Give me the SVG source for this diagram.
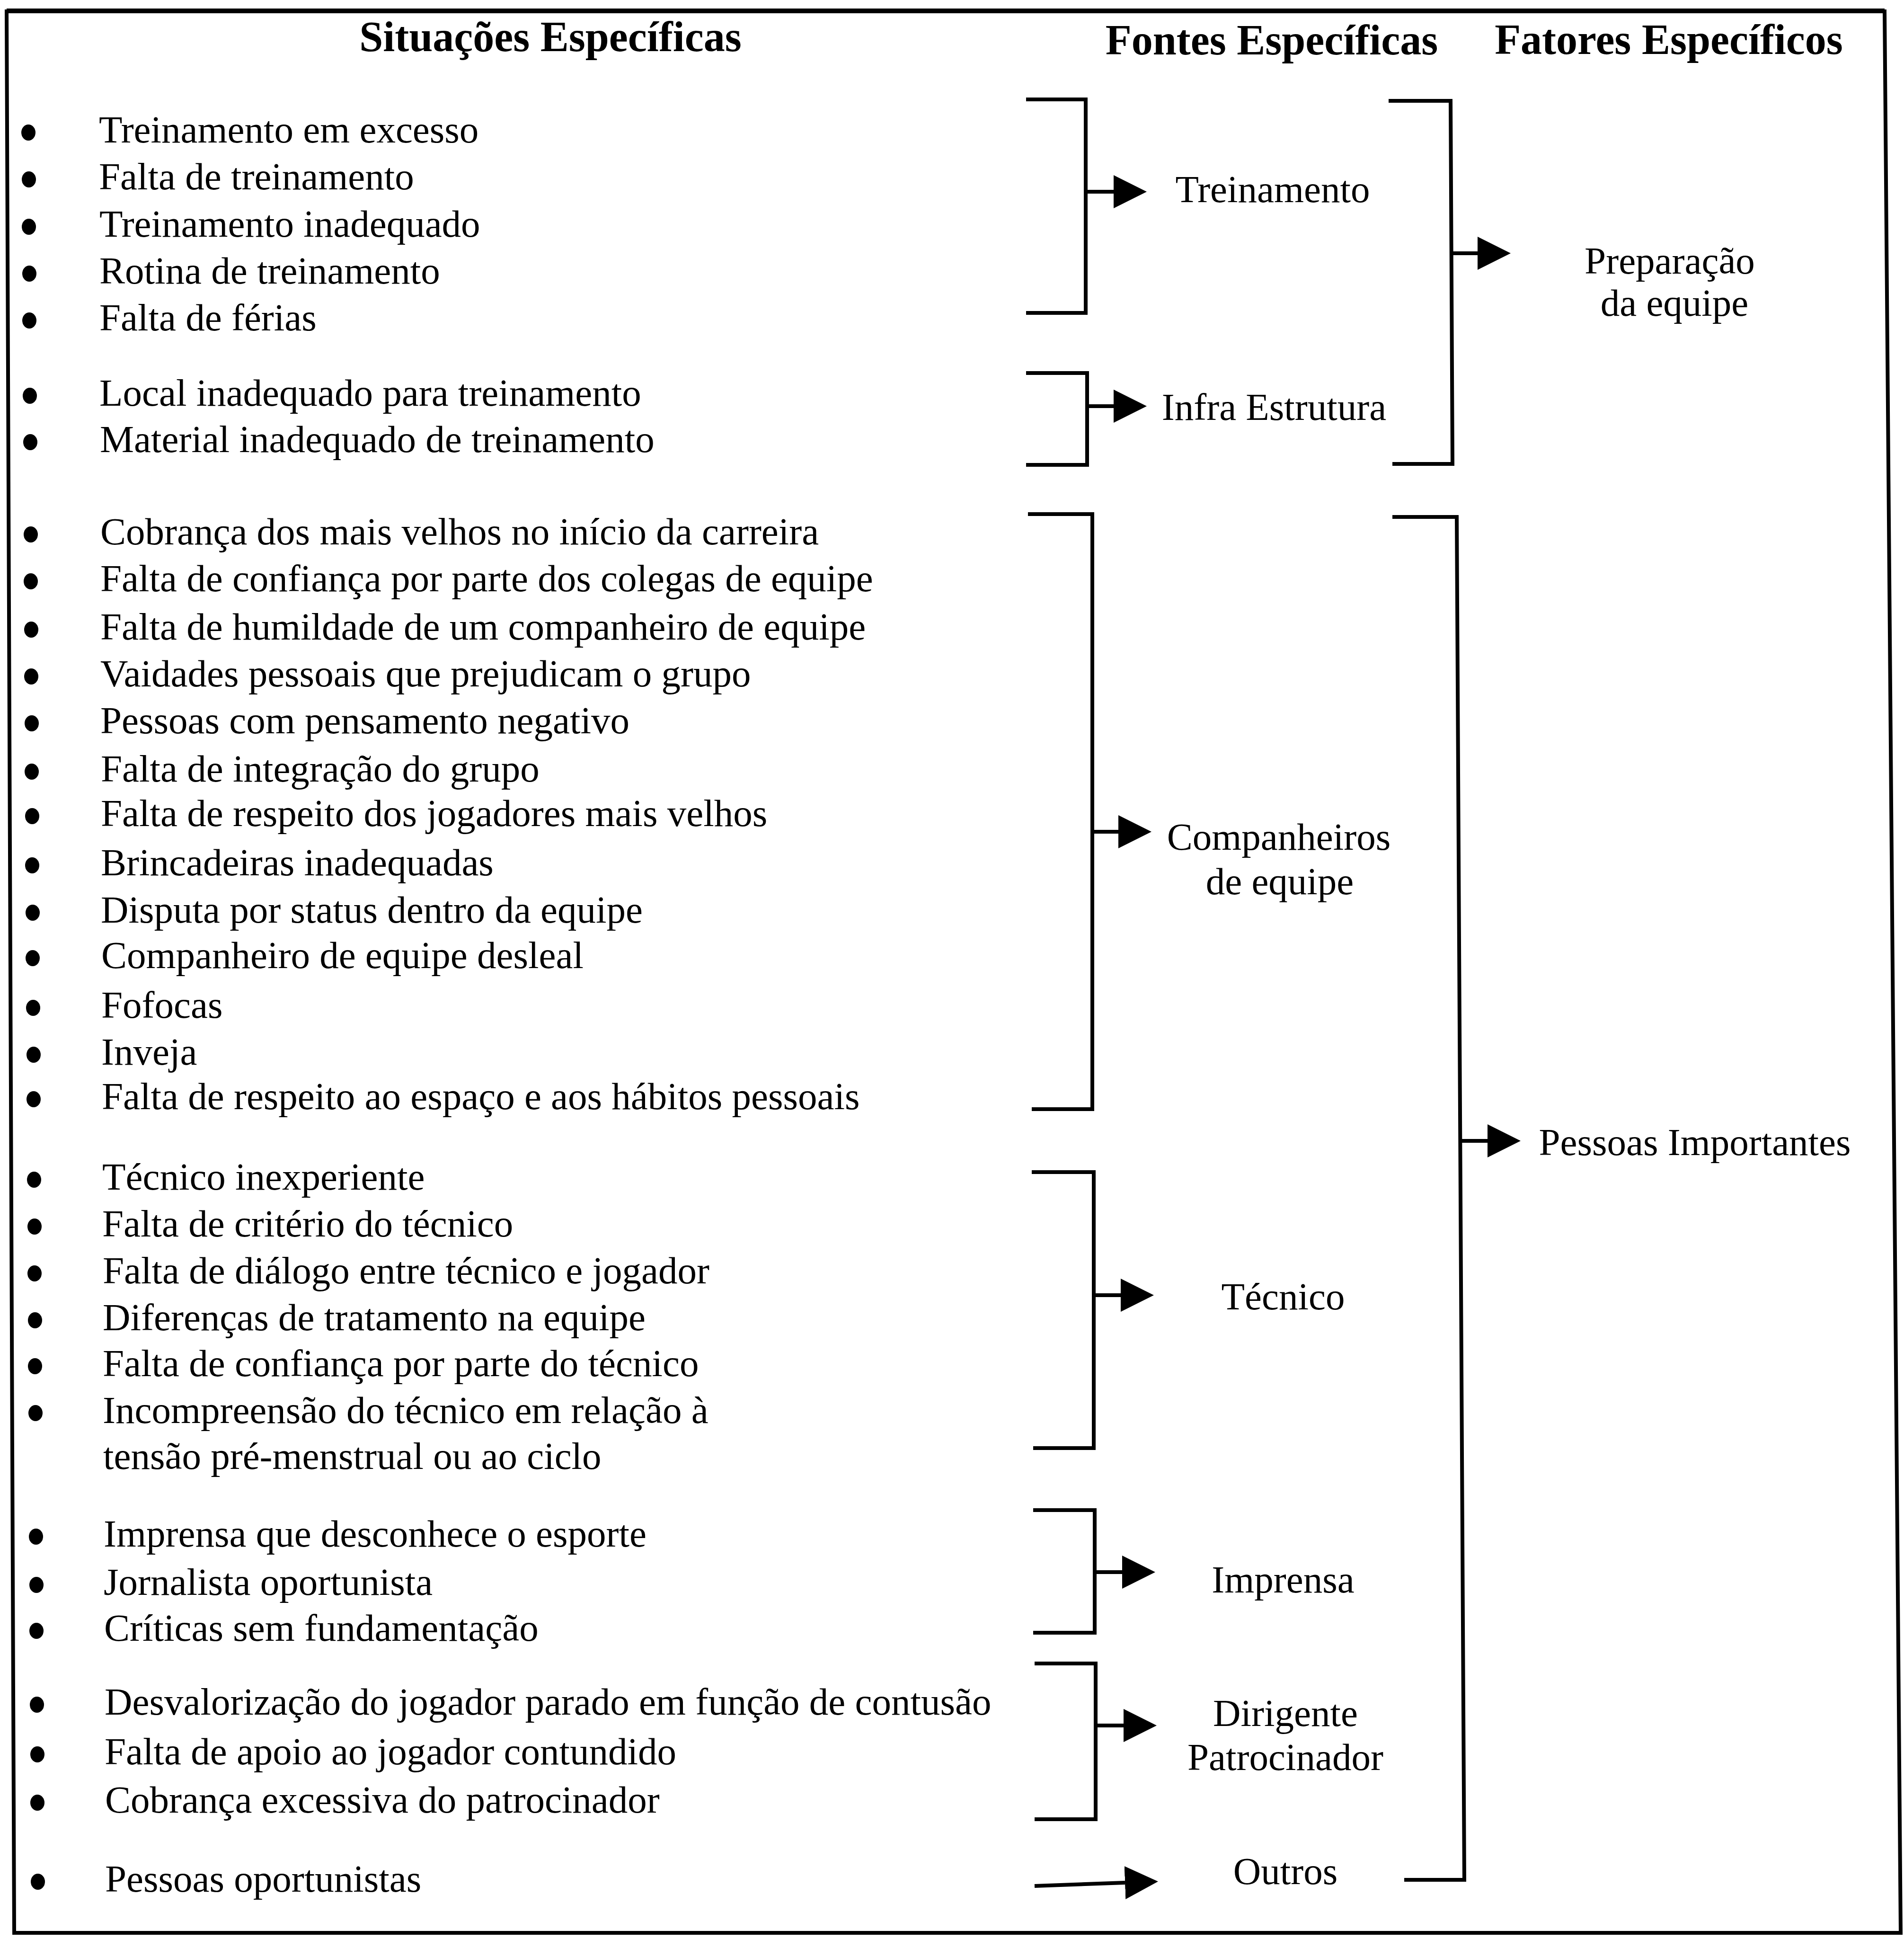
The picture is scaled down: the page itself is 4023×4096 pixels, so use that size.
<svg xmlns="http://www.w3.org/2000/svg" width="4023" height="4096" viewBox="0 0 4023 4096">
<defs>
<style>
text{font-family:"Liberation Serif","Times New Roman",serif;fill:#000}
.t{font-size:81px}
.c{font-size:81px;text-anchor:middle}
.h{font-size:90px;font-weight:bold;text-anchor:middle}
.ln{fill:none;stroke:#000;stroke-width:8;stroke-linejoin:miter}
.ar{fill:none;stroke:#000;stroke-width:8;marker-end:url(#ah)}
.frame{fill:none;stroke:#000;stroke-width:8}
.b{fill:#000}
</style>
<marker id="ah" markerUnits="userSpaceOnUse" markerWidth="70" markerHeight="70" refX="0" refY="35" orient="auto" viewBox="0 0 70 70"><path d="M0,0 L70,35 L0,70 z" fill="#000"/></marker>
</defs>
<rect width="4023" height="4096" fill="#fff"/>
<polygon class="frame" points="14,24 3982,24 4016,4083 30,4083"/>
<line x1="14" y1="23" x2="3982" y2="23" stroke="#000" stroke-width="10"/>

<g id="headers">
<text class="h" x="1163" y="108">Situações Específicas</text>
<text class="h" x="2687" y="115">Fontes Específicas</text>
<text class="h" x="3526" y="114">Fatores Específicos</text>
</g>

<g id="sit-treinamento">
<ellipse class="b" cx="60" cy="280" rx="15" ry="17"/><text class="t" x="209" y="301">Treinamento em excesso</text>
<ellipse class="b" cx="61" cy="379" rx="15" ry="17"/><text class="t" x="209" y="400">Falta de treinamento</text>
<ellipse class="b" cx="61" cy="479" rx="15" ry="17"/><text class="t" x="210" y="500">Treinamento inadequado</text>
<ellipse class="b" cx="62" cy="578" rx="15" ry="17"/><text class="t" x="210" y="599">Rotina de treinamento</text>
<ellipse class="b" cx="62" cy="677" rx="15" ry="17"/><text class="t" x="210" y="698">Falta de férias</text>
</g>
<g id="sit-infra">
<ellipse class="b" cx="63" cy="836" rx="15" ry="17"/><text class="t" x="210" y="857">Local inadequado para treinamento</text>
<ellipse class="b" cx="64" cy="934" rx="15" ry="17"/><text class="t" x="211" y="955">Material inadequado de treinamento</text>
</g>
<g id="sit-companheiros">
<ellipse class="b" cx="65" cy="1129" rx="15" ry="17"/><text class="t" x="212" y="1150">Cobrança dos mais velhos no início da carreira</text>
<ellipse class="b" cx="65" cy="1228" rx="15" ry="17"/><text class="t" x="212" y="1249">Falta de confiança por parte dos colegas de equipe</text>
<ellipse class="b" cx="66" cy="1330" rx="15" ry="17"/><text class="t" x="212" y="1351">Falta de humildade de um companheiro de equipe</text>
<ellipse class="b" cx="66" cy="1429" rx="15" ry="17"/><text class="t" x="212" y="1450">Vaidades pessoais que prejudicam o grupo</text>
<ellipse class="b" cx="67" cy="1528" rx="15" ry="17"/><text class="t" x="212" y="1549">Pessoas com pensamento negativo</text>
<ellipse class="b" cx="67" cy="1630" rx="15" ry="17"/><text class="t" x="213" y="1651">Falta de integração do grupo</text>
<ellipse class="b" cx="68" cy="1724" rx="15" ry="17"/><text class="t" x="213" y="1745">Falta de respeito dos jogadores mais velhos</text>
<ellipse class="b" cx="68" cy="1828" rx="15" ry="17"/><text class="t" x="213" y="1849">Brincadeiras inadequadas</text>
<ellipse class="b" cx="69" cy="1928" rx="15" ry="17"/><text class="t" x="213" y="1949">Disputa por status dentro da equipe</text>
<ellipse class="b" cx="69" cy="2024" rx="15" ry="17"/><text class="t" x="214" y="2045">Companheiro de equipe desleal</text>
<ellipse class="b" cx="70" cy="2129" rx="15" ry="17"/><text class="t" x="214" y="2150">Fofocas</text>
<ellipse class="b" cx="71" cy="2228" rx="15" ry="17"/><text class="t" x="214" y="2249">Inveja</text>
<ellipse class="b" cx="71" cy="2322" rx="15" ry="17"/><text class="t" x="215" y="2343">Falta de respeito ao espaço e aos hábitos pessoais</text>
</g>
<g id="sit-tecnico">
<ellipse class="b" cx="72" cy="2492" rx="15" ry="17"/><text class="t" x="216" y="2513">Técnico inexperiente</text>
<ellipse class="b" cx="73" cy="2591" rx="15" ry="17"/><text class="t" x="216" y="2612">Falta de critério do técnico</text>
<ellipse class="b" cx="73" cy="2690" rx="15" ry="17"/><text class="t" x="217" y="2711">Falta de diálogo entre técnico e jogador</text>
<ellipse class="b" cx="74" cy="2789" rx="15" ry="17"/><text class="t" x="217" y="2810">Diferenças de tratamento na equipe</text>
<ellipse class="b" cx="74" cy="2886" rx="15" ry="17"/><text class="t" x="217" y="2907">Falta de confiança por parte do técnico</text>
<ellipse class="b" cx="75" cy="2985" rx="15" ry="17"/><text class="t" x="217" y="3006">Incompreensão do técnico em relação à</text>
<text class="t" x="218" y="3103">tensão pré-menstrual ou ao ciclo</text>
</g>
<g id="sit-imprensa">
<ellipse class="b" cx="76" cy="3246" rx="15" ry="17"/><text class="t" x="219" y="3267">Imprensa que desconhece o esporte</text>
<ellipse class="b" cx="77" cy="3348" rx="15" ry="17"/><text class="t" x="219" y="3369">Jornalista oportunista</text>
<ellipse class="b" cx="77" cy="3445" rx="15" ry="17"/><text class="t" x="220" y="3466">Críticas sem fundamentação</text>
</g>
<g id="sit-dirigente">
<ellipse class="b" cx="78" cy="3601" rx="15" ry="17"/><text class="t" x="221" y="3622">Desvalorização do jogador parado em função de contusão</text>
<ellipse class="b" cx="79" cy="3706" rx="15" ry="17"/><text class="t" x="221" y="3727">Falta de apoio ao jogador contundido</text>
<ellipse class="b" cx="79" cy="3808" rx="15" ry="17"/><text class="t" x="222" y="3829">Cobrança excessiva do patrocinador</text>
</g>
<g id="sit-outros">
<ellipse class="b" cx="80" cy="3975" rx="15" ry="17"/><text class="t" x="222" y="3996">Pessoas oportunistas</text>
</g>

<g id="fonte-treinamento"><text class="c" x="2689" y="427">Treinamento</text></g>
<g id="fonte-infra"><text class="c" x="2692" y="887">Infra Estrutura</text></g>
<g id="fonte-companheiros"><text class="c" x="2702" y="1795">Companheiros</text><text class="c" x="2704" y="1889">de equipe</text></g>
<g id="fonte-tecnico"><text class="c" x="2711" y="2766">Técnico</text></g>
<g id="fonte-imprensa"><text class="c" x="2711" y="3364">Imprensa</text></g>
<g id="fonte-dirigente"><text class="c" x="2716" y="3646">Dirigente</text><text class="c" x="2716" y="3739">Patrocinador</text></g>
<g id="fonte-outros"><text class="c" x="2716" y="3980">Outros</text></g>

<g id="fator-preparacao"><text class="c" x="3528" y="578">Preparação</text><text class="c" x="3538" y="667">da equipe</text></g>
<g id="fator-pessoas"><text class="c" x="3581" y="2440">Pessoas Importantes</text></g>

<g id="connectors">
<path class="ln" d="M2168,210 H2294 V661 H2168"/>
<path class="ln" d="M2168,788 H2297 V982 H2168"/>
<path class="ln" d="M2172,1086 H2308 V2343 H2180"/>
<path class="ln" d="M2180,2476 H2311 V3059 H2183"/>
<path class="ln" d="M2183,3190 H2313 V3449 H2183"/>
<path class="ln" d="M2186,3514 H2315 V3843 H2186"/>
<path class="ln" d="M2934,213 H3065 L3069,980 H2942"/>
<path class="ln" d="M2942,1092 H3078 L3094,3971 H2967"/>
<line class="ar" x1="2294" y1="405" x2="2353" y2="405"/>
<line class="ar" x1="2297" y1="858" x2="2353" y2="858"/>
<line class="ar" x1="2308" y1="1757" x2="2363" y2="1757"/>
<line class="ar" x1="2311" y1="2736" x2="2368" y2="2736"/>
<line class="ar" x1="2313" y1="3321" x2="2371" y2="3321"/>
<line class="ar" x1="2315" y1="3645" x2="2374" y2="3645"/>
<line class="ar" x1="2186" y1="3984" x2="2377" y2="3977"/>
<line class="ar" x1="3067" y1="535" x2="3122" y2="535"/>
<line class="ar" x1="3086" y1="2410" x2="3143" y2="2410"/>
</g>
</svg>
